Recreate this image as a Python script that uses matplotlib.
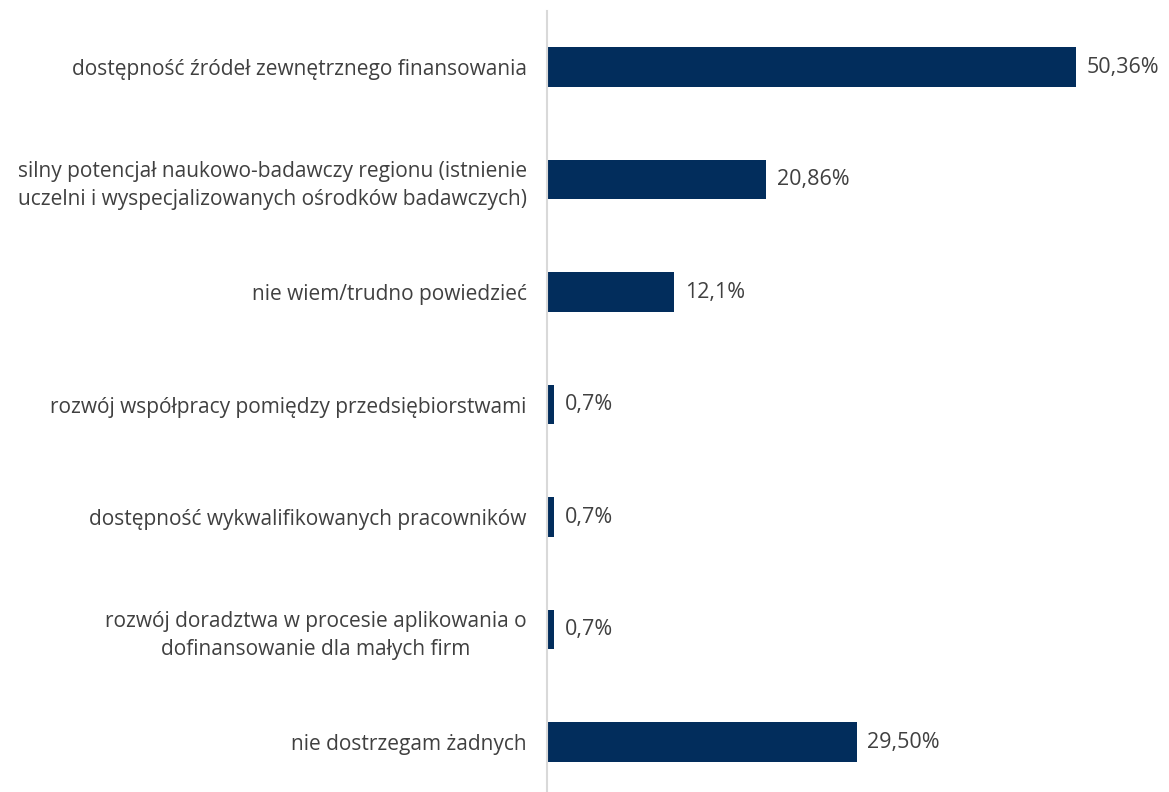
import matplotlib.pyplot as plt

plt.rcParams['font.family'] = ['Open Sans', 'DejaVu Sans']

# kategorie i udziały odpowiedzi (%)
kategorie = [
    'dostępność źródeł zewnętrznego finansowania',
    'silny potencjał naukowo-badawczy regionu (istnienie\nuczelni i wyspecjalizowanych ośrodków badawczych)',
    'nie wiem/trudno powiedzieć',
    'rozwój współpracy pomiędzy przedsiębiorstwami',
    'dostępność wykwalifikowanych pracowników',
    'rozwój doradztwa w procesie aplikowania o\ndofinansowanie dla małych firm',
    'nie dostrzegam żadnych',
]
wartosci = [50.36, 20.86, 12.1, 0.7, 0.7, 0.7, 29.50]
etykiety = ['50,36%', '20,86%', '12,1%', '0,7%', '0,7%', '0,7%', '29,50%']

kolor = '#022D5C'
tekst = '#404040'

fig = plt.figure(figsize=(11.69, 7.92), dpi=100)
ax = fig.add_axes([547 / 1169, -6.25 / 792, 1 - 547 / 1169, 787.5 / 792])

y = list(range(len(kategorie)))
ax.barh(y, wartosci, height=0.35, color=kolor)
ax.set_ylim(len(kategorie) - 0.5, -0.5)
ax.set_xlim(0, 59.2)

for yi, v, lab in zip(y, wartosci, etykiety):
    ax.text(v + 1.0, yi, lab, va='center', ha='left', fontsize=15.5, color=tekst)

ax.set_yticks(y)
ax.set_yticklabels(kategorie, fontsize=15, color=tekst, ha='right',
                   multialignment='center', linespacing=1.45)
ax.tick_params(axis='y', length=0, pad=14.5)
ax.set_xticks([])

for s in ['top', 'right', 'bottom']:
    ax.spines[s].set_visible(False)
ax.spines['left'].set_color('#D9D9D9')
ax.spines['left'].set_linewidth(1.5)

fig.savefig('out.png', dpi=100)
